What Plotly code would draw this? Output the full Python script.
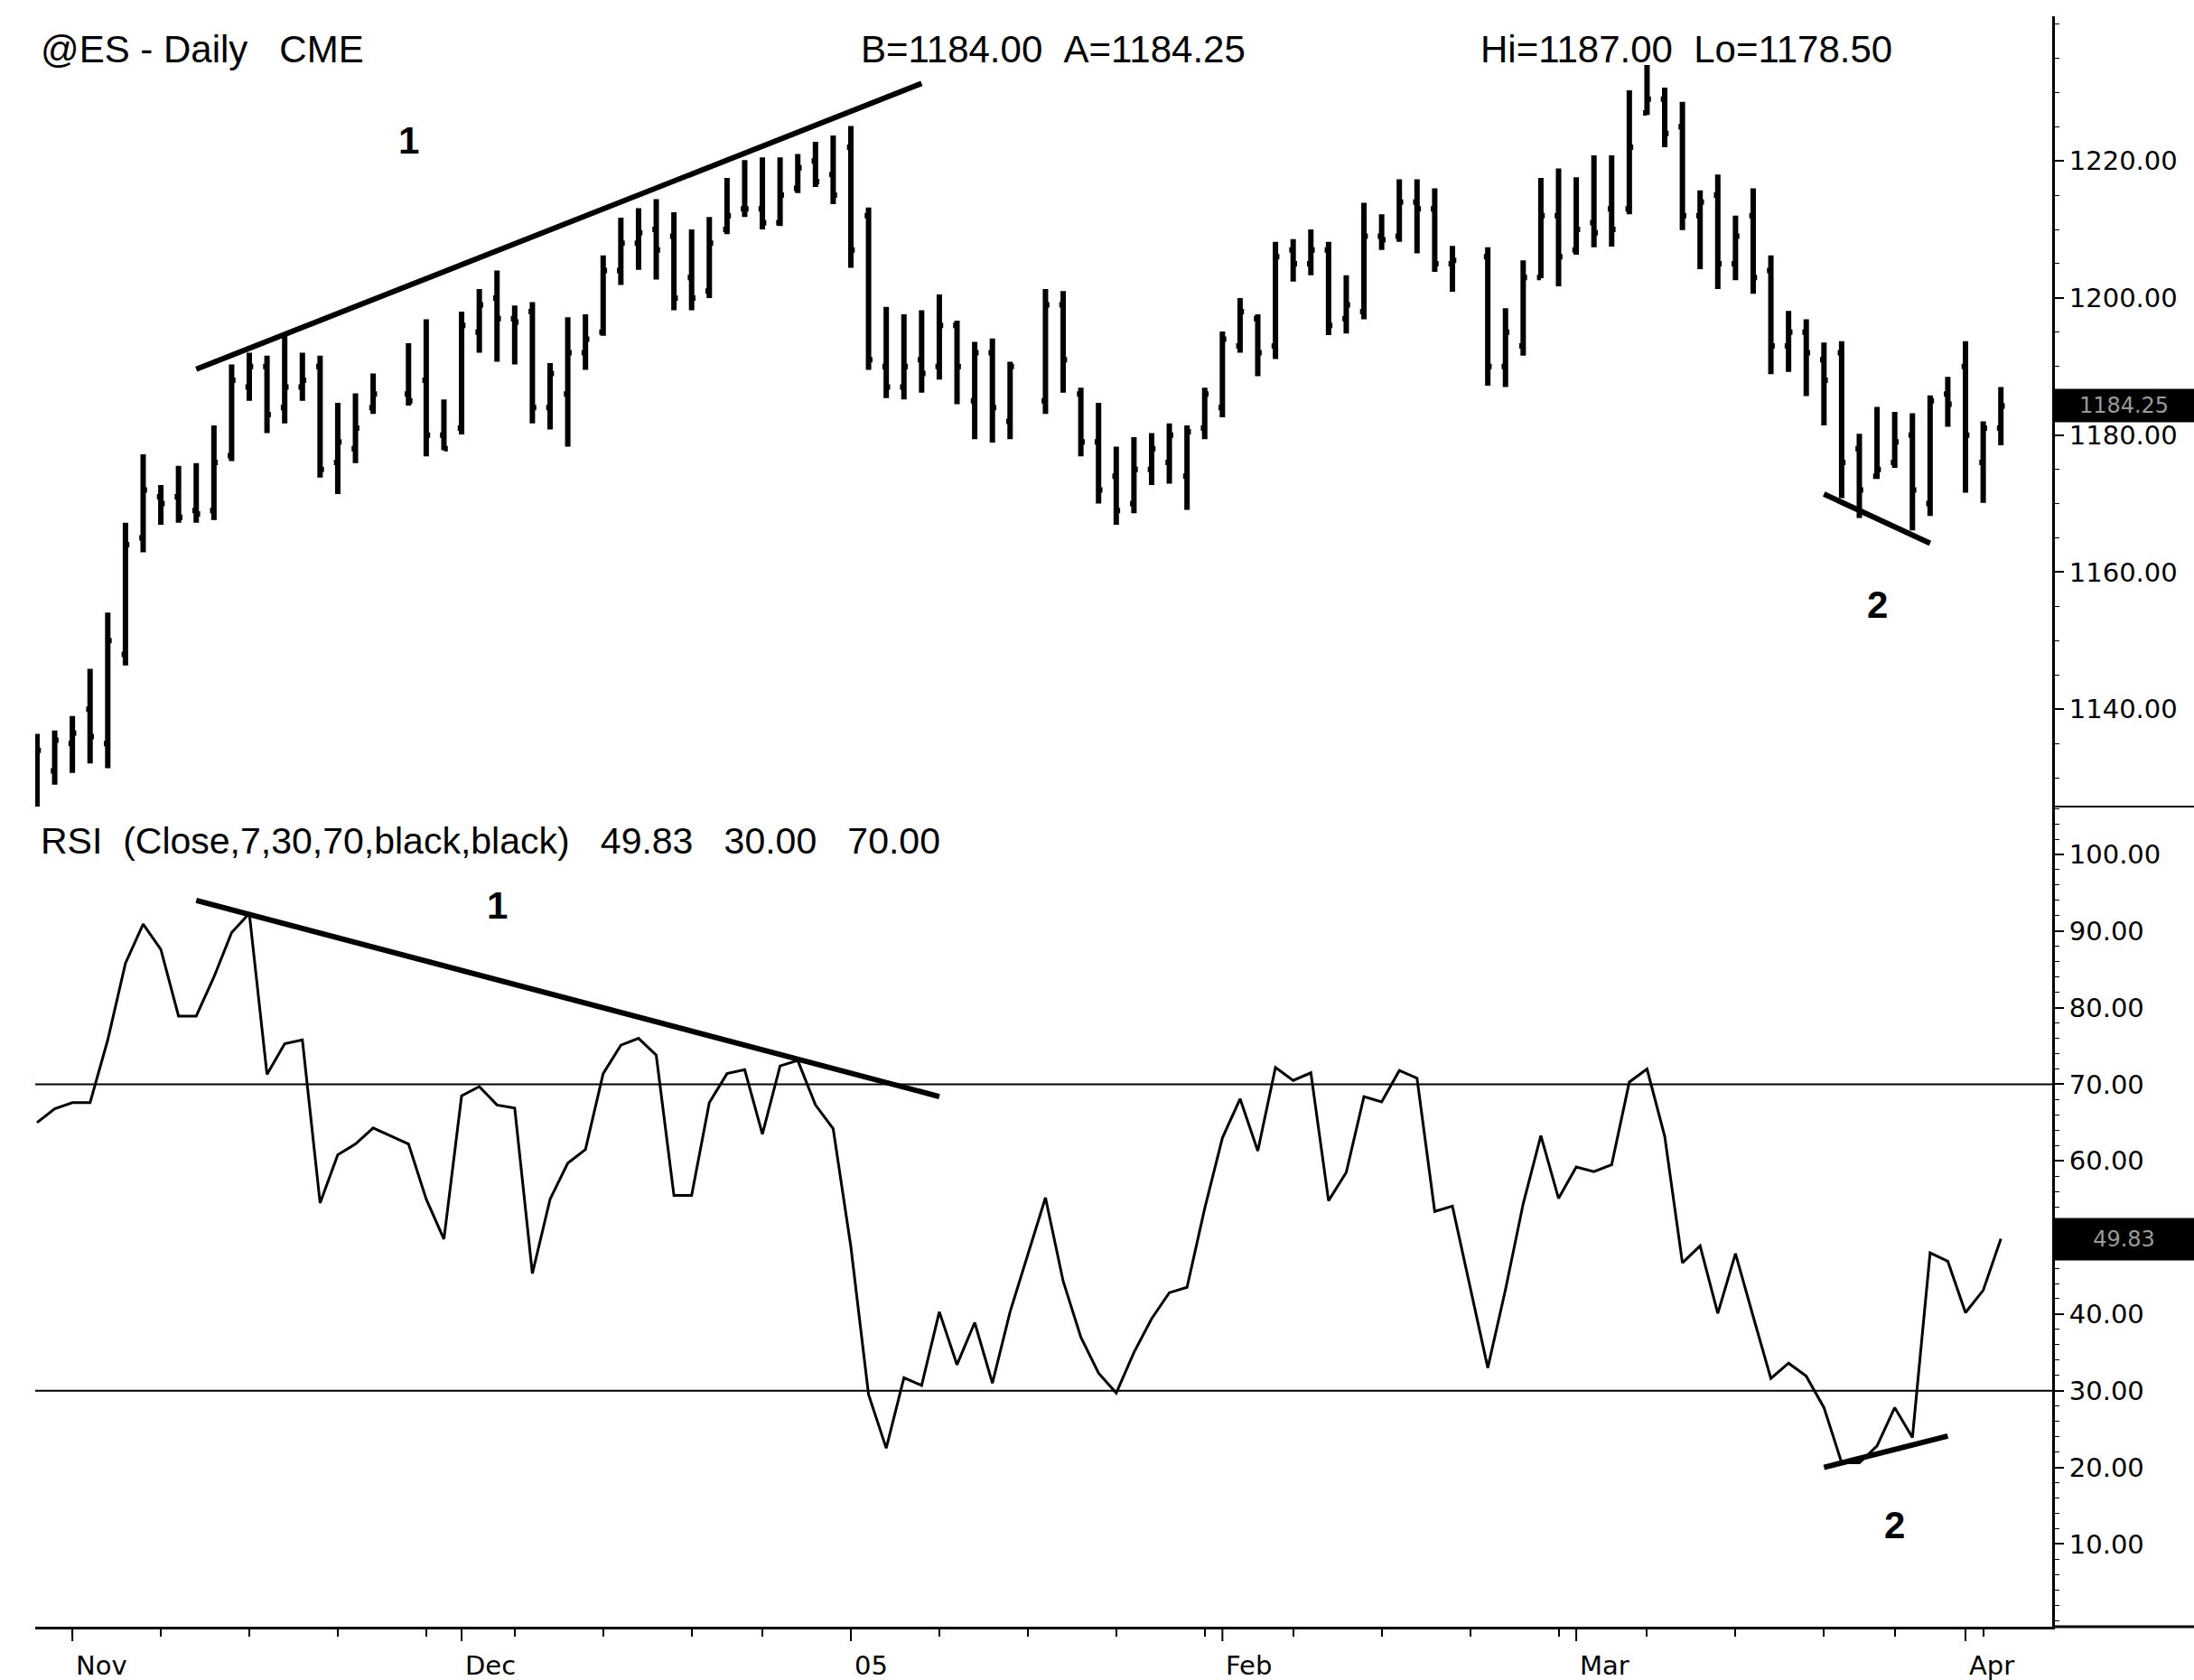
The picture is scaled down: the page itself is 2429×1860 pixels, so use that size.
import plotly.graph_objects as go
import pandas as pd

# ---------------- data ----------------
DATES = [
    "2004-10-28", "2004-10-29",
    "2004-11-01", "2004-11-02", "2004-11-03", "2004-11-04", "2004-11-05",
    "2004-11-08", "2004-11-09", "2004-11-10", "2004-11-11", "2004-11-12",
    "2004-11-15", "2004-11-16", "2004-11-17", "2004-11-18", "2004-11-19",
    "2004-11-22", "2004-11-23", "2004-11-24", "2004-11-26",
    "2004-11-29", "2004-11-30",
    "2004-12-01", "2004-12-02", "2004-12-03",
    "2004-12-06", "2004-12-07", "2004-12-08", "2004-12-09", "2004-12-10",
    "2004-12-13", "2004-12-14", "2004-12-15", "2004-12-16", "2004-12-17",
    "2004-12-20", "2004-12-21", "2004-12-22", "2004-12-23",
    "2004-12-27", "2004-12-28", "2004-12-29", "2004-12-30", "2004-12-31",
    "2005-01-03", "2005-01-04", "2005-01-05", "2005-01-06", "2005-01-07",
    "2005-01-10", "2005-01-11", "2005-01-12", "2005-01-13", "2005-01-14",
    "2005-01-18", "2005-01-19", "2005-01-20", "2005-01-21",
    "2005-01-24", "2005-01-25", "2005-01-26", "2005-01-27", "2005-01-28",
    "2005-01-31", "2005-02-01", "2005-02-02", "2005-02-03", "2005-02-04",
    "2005-02-07", "2005-02-08", "2005-02-09", "2005-02-10", "2005-02-11",
    "2005-02-14", "2005-02-15", "2005-02-16", "2005-02-17", "2005-02-18",
    "2005-02-22", "2005-02-23", "2005-02-24", "2005-02-25",
    "2005-02-28", "2005-03-01", "2005-03-02", "2005-03-03", "2005-03-04",
    "2005-03-07", "2005-03-08", "2005-03-09", "2005-03-10", "2005-03-11",
    "2005-03-14", "2005-03-15", "2005-03-16", "2005-03-17", "2005-03-18",
    "2005-03-21", "2005-03-22", "2005-03-23", "2005-03-24",
    "2005-03-28", "2005-03-29", "2005-03-30", "2005-03-31", "2005-04-01",
    "2005-04-04", "2005-04-05",
]
GAP_DAYS = ["2004-11-25", "2005-01-17", "2005-02-21"]

OPEN = [1127, 1131, 1135, 1140, 1135, 1148, 1165, 1171, 1171, 1169,
        1169, 1177, 1187, 1190, 1184, 1187, 1190, 1176, 1178, 1184,
        1186, 1188, 1180, 1181, 1195, 1200, 1197, 1198, 1184, 1186,
        1192, 1195, 1204, 1208, 1210, 1209, 1203, 1201, 1210, 1213,
        1213, 1211, 1216, 1220, 1218, 1222, 1212, 1190, 1187, 1191,
        1190, 1196, 1185, 1192, 1182, 1185, 1199, 1186, 1179, 1174,
        1170, 1175, 1176, 1174, 1181, 1184, 1193, 1197, 1193, 1207,
        1205, 1207, 1197, 1198, 1209, 1209, 1214, 1213, 1205, 1206,
        1190, 1193, 1203, 1212, 1207, 1211, 1213, 1213, 1227, 1229,
        1225, 1212, 1215, 1205, 1212, 1204, 1193, 1195, 1191, 1192,
        1178, 1174, 1176, 1180, 1170, 1186, 1190, 1176, 1181]
HIGH = [1136.4, 1136.9, 1139.0, 1145.9, 1154.1, 1167.2, 1177.2, 1172.7, 1175.5, 1175.9,
        1181.4, 1190.3, 1192.0, 1191.6, 1194.5, 1192.0, 1191.6, 1184.7, 1186.1, 1189.0,
        1193.4, 1196.9, 1185.2, 1198.0, 1201.3, 1204.0, 1198.9, 1199.4, 1190.5, 1197.2,
        1197.6, 1206.2, 1211.7, 1213.1, 1214.4, 1212.5, 1210.0, 1211.8, 1217.5, 1220.1,
        1220.5, 1220.5, 1221.0, 1222.8, 1223.7, 1225.1, 1213.2, 1198.7, 1197.6, 1198.2,
        1200.5, 1196.7, 1193.6, 1194.1, 1190.7, 1201.3, 1201.0, 1186.9, 1184.7, 1178.3,
        1179.7, 1180.3, 1181.7, 1181.4, 1186.9, 1195.1, 1200.0, 1197.6, 1208.2, 1208.6,
        1210.0, 1208.2, 1203.3, 1213.9, 1212.2, 1217.3, 1217.3, 1216.0, 1207.6, 1207.4,
        1198.5, 1205.5, 1217.5, 1218.9, 1217.6, 1220.8, 1220.8, 1230.3, 1234.0, 1230.7,
        1228.6, 1215.7, 1218.0, 1212.0, 1216.0, 1206.2, 1198.1, 1196.9, 1193.5, 1193.7,
        1180.2, 1184.1, 1183.4, 1183.2, 1185.8, 1188.5, 1193.7, 1182.0, 1187.0]
LOW = [1125.0, 1129.0, 1130.7, 1132.1, 1131.4, 1146.4, 1162.9, 1166.9, 1167.2, 1167.2,
       1167.6, 1176.2, 1185.0, 1180.3, 1181.7, 1185.0, 1173.8, 1171.4, 1175.9, 1183.1,
       1184.3, 1176.9, 1177.8, 1180.1, 1192.0, 1190.7, 1190.3, 1181.7, 1180.8, 1178.3,
       1189.5, 1194.5, 1201.9, 1204.1, 1202.7, 1198.2, 1198.2, 1200.0, 1209.3, 1211.8,
       1210.0, 1210.5, 1215.3, 1216.2, 1213.7, 1204.4, 1189.5, 1185.4, 1185.2, 1186.2,
       1188.1, 1184.5, 1179.4, 1178.9, 1179.4, 1183.1, 1186.2, 1176.9, 1170.0, 1166.9,
       1168.6, 1172.7, 1172.9, 1169.1, 1179.4, 1182.6, 1192.0, 1188.6, 1191.1, 1202.4,
       1203.3, 1194.6, 1194.8, 1196.9, 1207.0, 1208.2, 1206.5, 1203.8, 1200.9, 1187.2,
       1187.0, 1191.6, 1202.9, 1201.7, 1206.3, 1207.4, 1207.5, 1212.2, 1226.7, 1222.0,
       1209.9, 1204.2, 1201.3, 1202.6, 1200.6, 1188.9, 1189.2, 1185.7, 1181.4, 1170.8,
       1167.9, 1173.6, 1175.2, 1166.1, 1168.2, 1181.2, 1171.6, 1170.1, 1178.5]
CLOSE = [1134, 1135.5, 1136.5, 1136, 1150, 1164, 1172, 1170, 1168, 1168.5,
         1176, 1188, 1190, 1183, 1187, 1188, 1175, 1179, 1181, 1186,
         1185, 1180, 1178, 1196, 1199, 1197, 1196.5, 1184, 1189, 1192,
         1194, 1204, 1208, 1209.5, 1207, 1200, 1200, 1208, 1212, 1213,
         1211, 1215, 1219, 1217, 1215, 1207, 1191, 1187, 1190, 1189,
         1196, 1190, 1192, 1184, 1190, 1199, 1191, 1179, 1172, 1169,
         1175, 1178, 1180, 1180.5, 1186, 1194, 1198, 1192, 1206, 1205,
         1207, 1196, 1199, 1209, 1208.5, 1214, 1213, 1205, 1205.5, 1190,
         1195, 1203, 1212, 1206, 1210, 1209.5, 1210, 1222, 1229, 1224,
         1212, 1214, 1205, 1209, 1203, 1193, 1195, 1192, 1188, 1176,
         1172, 1175, 1179, 1172, 1185, 1184.5, 1180, 1181, 1184.25]
RSI = [65.0, 66.8, 67.6, 67.6, 75.8, 85.8, 90.9, 87.6, 78.9, 78.9,
       84.0, 89.8, 92.3, 71.3, 75.3, 75.8, 54.5, 60.8, 62.2, 64.3,
       62.2, 55.0, 49.8, 68.5, 69.7, 67.3, 66.9, 45.3, 55.0, 59.7,
       61.5, 71.4, 75.1, 76.0, 73.8, 55.5, 55.5, 67.6, 71.4, 71.9,
       63.5, 72.4, 73.1, 67.3, 64.2, 48.8, 29.5, 22.5, 31.7, 30.7,
       40.3, 33.4, 38.9, 31.0, 40.3, 55.2, 44.3, 37.0, 32.3, 29.7,
       35.0, 39.4, 42.8, 43.5, 53.8, 63.0, 68.1, 61.3, 72.2, 70.5,
       71.5, 54.8, 58.5, 68.4, 67.7, 71.8, 70.8, 53.4, 54.1, 33.0,
       43.2, 54.4, 63.3, 55.1, 59.2, 58.6, 59.5, 70.3, 72.0, 63.2,
       46.7, 48.9, 40.1, 47.9, 39.7, 31.6, 33.6, 31.9, 27.8, 20.6,
       20.6, 22.8, 27.8, 23.9, 48.0, 46.9, 40.2, 43.1, 49.83]

MONTH_STARTS = ["2004-11-01", "2004-12-01", "2005-01-03", "2005-02-01", "2005-03-01", "2005-04-01"]
MONTH_LABELS = ["Nov", "Dec", "05", "Feb", "Mar", "Apr"]
PRICE_TICKS = [1140, 1160, 1180, 1200, 1220]
RSI_TICKS = [10, 20, 30, 40, 60, 70, 80, 90, 100]
RSI_LEVELS = [30, 70]

PRICE_TRENDLINES = [("2004-11-10", 1189.6, "2005-01-07", 1231.3),
                    ("2005-03-21", 1171.4, "2005-03-30", 1164.2)]
RSI_TRENDLINES = [("2004-11-10", 94.0, "2005-01-10", 68.4),
                  ("2005-03-21", 20.0, "2005-03-31", 24.1)]
PRICE_MARKS = [("1", "2004-11-26", 1223.0), ("2", "2005-03-24", 1155.2)]
RSI_MARKS = [("1", "2004-12-03", 93.3), ("2", "2005-03-28", 12.5)]

NB = "\u00a0"
HEADER_LEFT = "@ES - Daily" + NB * 3 + "CME"
HEADER_BA = "B=1184.00" + NB * 2 + "A=1184.25"
HEADER_HL = "Hi=1187.00" + NB * 2 + "Lo=1178.50"
RSI_TITLE = ("RSI" + NB * 2 + "(Close,7,30,70,black,black)" + NB * 3 +
             "49.83" + NB * 3 + "30.00" + NB * 3 + "70.00")
LAST_PRICE = 1184.25
LAST_RSI = 49.83

# ---------------- layout geometry ----------------
W, H = 2429, 1860
ML, MR, MT, MB = 39, 157, 18, 59
PW, PH = W - ML - MR, H - MT - MB
SPLIT = (1801 - 893) / PH
RIGHT_EXT = 1 + MR / PW

CATS = sorted(DATES + GAP_DAYS)
MONDAYS = [d for d in CATS if pd.Timestamp(d).dayofweek == 0]

AXFONT = dict(family="DejaVu Sans, Arial", size=29, color="black")
TXTFONT = dict(family="Liberation Sans, Arial", size=42, color="black")

fig = go.Figure()

fig.add_trace(go.Ohlc(
    x=DATES, open=OPEN, high=HIGH, low=LOW, close=CLOSE,
    increasing=dict(line=dict(color="black", width=6)),
    decreasing=dict(line=dict(color="black", width=6)),
    tickwidth=0.22, xaxis="x", yaxis="y", hoverinfo="skip", showlegend=False,
))

fig.add_trace(go.Scatter(
    x=DATES, y=RSI, mode="lines", line=dict(color="black", width=3),
    xaxis="x", yaxis="y2", hoverinfo="skip", showlegend=False,
))

for x0, y0, x1, y1 in PRICE_TRENDLINES:
    fig.add_trace(go.Scatter(x=[x0, x1], y=[y0, y1], mode="lines",
                             line=dict(color="black", width=6),
                             xaxis="x", yaxis="y", hoverinfo="skip", showlegend=False))
for x0, y0, x1, y1 in RSI_TRENDLINES:
    fig.add_trace(go.Scatter(x=[x0, x1], y=[y0, y1], mode="lines",
                             line=dict(color="black", width=6),
                             xaxis="x", yaxis="y2", hoverinfo="skip", showlegend=False))

shapes = []
for lv in RSI_LEVELS:
    shapes.append(dict(type="line", xref="paper", yref="y2", x0=0, x1=1, y0=lv, y1=lv,
                       line=dict(color="black", width=2), layer="below"))
for d in MONTH_STARTS:
    shapes.append(dict(type="line", xref="x", yref="paper", x0=d, x1=d,
                       y0=0, y1=-16 / PH, line=dict(color="black", width=2)))
shapes.append(dict(type="line", xref="paper", yref="paper", x0=1, x1=RIGHT_EXT,
                   y0=0, y1=0, line=dict(color="black", width=3)))
shapes.append(dict(type="line", xref="paper", yref="paper", x0=1, x1=RIGHT_EXT,
                   y0=SPLIT, y1=SPLIT, line=dict(color="black", width=2)))

ann = []
ann.append(dict(text=HEADER_LEFT, xref="paper", yref="paper", x=(43 - ML) / PW,
                y=(1801 - 54) / PH, xanchor="left", yanchor="middle", showarrow=False, font=TXTFONT))
ann.append(dict(text=HEADER_BA, xref="paper", yref="paper", x=(951 - ML) / PW,
                y=(1801 - 54) / PH, xanchor="left", yanchor="middle", showarrow=False, font=TXTFONT))
ann.append(dict(text=HEADER_HL, xref="paper", yref="paper", x=(1637 - ML) / PW,
                y=(1801 - 54) / PH, xanchor="left", yanchor="middle", showarrow=False, font=TXTFONT))
ann.append(dict(text=RSI_TITLE, xref="paper", yref="paper", x=(43 - ML) / PW,
                y=(1801 - 931) / PH, xanchor="left", yanchor="middle", showarrow=False,
                font=dict(family="Liberation Sans, Arial", size=41, color="black")))
for lab, d in zip(MONTH_LABELS, MONTH_STARTS):
    ann.append(dict(text=lab, xref="x", yref="paper", x=d, y=-0.024, xanchor="left",
                    yanchor="middle", xshift=2, showarrow=False, font=AXFONT))
for t, d, v in PRICE_MARKS:
    ann.append(dict(text="<b>%s</b>" % t, xref="x", yref="y", x=d, y=v, showarrow=False,
                    font=dict(family="Liberation Sans, Arial", size=42, color="black")))
for t, d, v in RSI_MARKS:
    ann.append(dict(text="<b>%s</b>" % t, xref="x", yref="y2", x=d, y=v, showarrow=False,
                    font=dict(family="Liberation Sans, Arial", size=42, color="black")))
ann.append(dict(text="%.2f" % LAST_PRICE, xref="paper", yref="y", x=1, y=LAST_PRICE,
                xanchor="left", yanchor="middle", showarrow=False, bgcolor="black",
                width=MR, height=36, borderpad=0,
                font=dict(family="DejaVu Sans, Arial", size=24, color="#9a9a9a")))
ann.append(dict(text="%.2f" % LAST_RSI, xref="paper", yref="y2", x=1, y=LAST_RSI,
                xanchor="left", yanchor="middle", showarrow=False, bgcolor="black",
                width=MR, height=46, borderpad=0,
                font=dict(family="DejaVu Sans, Arial", size=24, color="#9a9a9a")))

yax_common = dict(side="right", showline=True, linecolor="black", linewidth=3,
                  ticks="outside", ticklen=10, tickwidth=2, tickcolor="black",
                  showgrid=False, zeroline=False, tickfont=AXFONT, fixedrange=True)

fig.update_layout(
    width=W, height=H, paper_bgcolor="white", plot_bgcolor="white",
    margin=dict(l=ML, r=MR, t=MT, b=MB, pad=0),
    showlegend=False, hovermode=False,
    xaxis=dict(type="category", categoryorder="array", categoryarray=CATS,
               range=[-0.1, len(CATS) + 1.9], anchor="y2", domain=[0, 1],
               showline=True, linecolor="black", linewidth=3,
               ticks="outside", ticklen=8, tickwidth=2, tickcolor="black",
               tickmode="array", tickvals=MONDAYS, ticktext=[""] * len(MONDAYS),
               showgrid=False, zeroline=False, rangeslider=dict(visible=False),
               fixedrange=True),
    yaxis=dict(domain=[SPLIT, 1], range=[1125.8, 1241.1], anchor="x",
               tickmode="array", tickvals=PRICE_TICKS,
               ticktext=["%.2f" % v for v in PRICE_TICKS],
               minor=dict(ticks="outside", ticklen=5, dtick=5, tickcolor="black", tickwidth=1),
               **yax_common),
    yaxis2=dict(domain=[0, SPLIT], range=[-0.8, 106.25], anchor="x",
                tickmode="array", tickvals=RSI_TICKS,
                ticktext=["%.2f" % v for v in RSI_TICKS],
                minor=dict(ticks="outside", ticklen=5, dtick=2, tickcolor="black", tickwidth=1),
                **yax_common),
    shapes=shapes, annotations=ann,
)

fig.write_html("out.html", config={"displayModeBar": False},
               post_script="document.body.style.margin='0';document.body.style.overflow='hidden';")
